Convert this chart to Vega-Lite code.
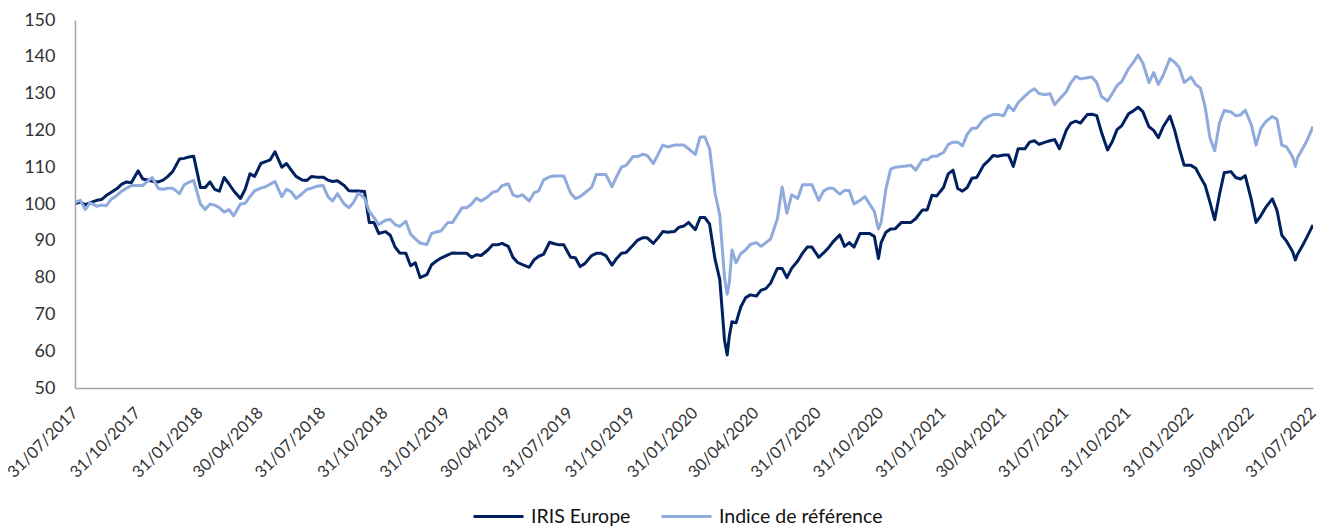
{
  "$schema": "https://vega.github.io/schema/vega-lite/v6.json",
  "autosize": {"type": "none"},
  "width": 1238,
  "height": 368,
  "padding": {"left": 75, "top": 20, "right": 13, "bottom": 139},
  "background": "white",
  "config": {"view": {"stroke": null}, "font": "Lato"},
  "data": {"values": [
{"d":"2017-07-31","IRIS Europe":100,"Indice de référence":100},
{"d":"2017-08-01","IRIS Europe":100.2,"Indice de référence":100.5},
{"d":"2017-08-08","IRIS Europe":100.5,"Indice de référence":101},
{"d":"2017-08-15","IRIS Europe":99.8,"Indice de référence":98.5},
{"d":"2017-08-22","IRIS Europe":100.3,"Indice de référence":100.3},
{"d":"2017-09-01","IRIS Europe":101,"Indice de référence":99.4},
{"d":"2017-09-08","IRIS Europe":101.2,"Indice de référence":99.7},
{"d":"2017-09-15","IRIS Europe":102.3,"Indice de référence":99.5},
{"d":"2017-09-22","IRIS Europe":103.1,"Indice de référence":101.2},
{"d":"2017-10-01","IRIS Europe":104.2,"Indice de référence":102.4},
{"d":"2017-10-08","IRIS Europe":105.4,"Indice de référence":103.5},
{"d":"2017-10-15","IRIS Europe":106,"Indice de référence":104.3},
{"d":"2017-10-22","IRIS Europe":105.8,"Indice de référence":105},
{"d":"2017-11-01","IRIS Europe":109,"Indice de référence":105},
{"d":"2017-11-08","IRIS Europe":106.8,"Indice de référence":105},
{"d":"2017-11-15","IRIS Europe":106.5,"Indice de référence":106.2},
{"d":"2017-11-22","IRIS Europe":106.2,"Indice de référence":107.2},
{"d":"2017-12-01","IRIS Europe":106,"Indice de référence":104.2},
{"d":"2017-12-08","IRIS Europe":106.5,"Indice de référence":104},
{"d":"2017-12-15","IRIS Europe":107.5,"Indice de référence":104.3},
{"d":"2017-12-22","IRIS Europe":108.8,"Indice de référence":104.3},
{"d":"2018-01-01","IRIS Europe":112.2,"Indice de référence":102.8},
{"d":"2018-01-08","IRIS Europe":112.4,"Indice de référence":105.2},
{"d":"2018-01-15","IRIS Europe":112.8,"Indice de référence":105.9},
{"d":"2018-01-22","IRIS Europe":113,"Indice de référence":106.4},
{"d":"2018-02-01","IRIS Europe":104.5,"Indice de référence":100},
{"d":"2018-02-08","IRIS Europe":104.5,"Indice de référence":98.5},
{"d":"2018-02-15","IRIS Europe":106,"Indice de référence":100},
{"d":"2018-02-22","IRIS Europe":104,"Indice de référence":99.7},
{"d":"2018-03-01","IRIS Europe":103.5,"Indice de référence":99},
{"d":"2018-03-08","IRIS Europe":107.2,"Indice de référence":97.8},
{"d":"2018-03-15","IRIS Europe":105.5,"Indice de référence":98.5},
{"d":"2018-03-22","IRIS Europe":103.6,"Indice de référence":96.8},
{"d":"2018-04-01","IRIS Europe":101.5,"Indice de référence":100},
{"d":"2018-04-08","IRIS Europe":104,"Indice de référence":100.2},
{"d":"2018-04-15","IRIS Europe":108.2,"Indice de référence":102},
{"d":"2018-04-22","IRIS Europe":107.5,"Indice de référence":103.6},
{"d":"2018-05-01","IRIS Europe":111,"Indice de référence":104.3},
{"d":"2018-05-08","IRIS Europe":111.5,"Indice de référence":104.7},
{"d":"2018-05-15","IRIS Europe":112,"Indice de référence":105.4},
{"d":"2018-05-22","IRIS Europe":114.2,"Indice de référence":106.1},
{"d":"2018-06-01","IRIS Europe":110,"Indice de référence":102},
{"d":"2018-06-08","IRIS Europe":111,"Indice de référence":104},
{"d":"2018-06-15","IRIS Europe":109.2,"Indice de référence":103.3},
{"d":"2018-06-22","IRIS Europe":107.5,"Indice de référence":101.5},
{"d":"2018-07-01","IRIS Europe":106.5,"Indice de référence":102.8},
{"d":"2018-07-08","IRIS Europe":106.4,"Indice de référence":104},
{"d":"2018-07-15","IRIS Europe":107.5,"Indice de référence":104.3},
{"d":"2018-07-22","IRIS Europe":107.3,"Indice de référence":104.8},
{"d":"2018-08-01","IRIS Europe":107.3,"Indice de référence":105},
{"d":"2018-08-08","IRIS Europe":106.5,"Indice de référence":102},
{"d":"2018-08-15","IRIS Europe":106.1,"Indice de référence":100.8},
{"d":"2018-08-22","IRIS Europe":106.3,"Indice de référence":102.8},
{"d":"2018-09-01","IRIS Europe":105,"Indice de référence":100},
{"d":"2018-09-08","IRIS Europe":103.6,"Indice de référence":99},
{"d":"2018-09-15","IRIS Europe":103.5,"Indice de référence":100.5},
{"d":"2018-09-22","IRIS Europe":103.5,"Indice de référence":103},
{"d":"2018-10-01","IRIS Europe":103.4,"Indice de référence":101.6},
{"d":"2018-10-08","IRIS Europe":95,"Indice de référence":98},
{"d":"2018-10-15","IRIS Europe":95,"Indice de référence":96.3},
{"d":"2018-10-22","IRIS Europe":92,"Indice de référence":94.4},
{"d":"2018-11-01","IRIS Europe":92.5,"Indice de référence":95.6},
{"d":"2018-11-08","IRIS Europe":91.5,"Indice de référence":95.8},
{"d":"2018-11-15","IRIS Europe":88.3,"Indice de référence":94.4},
{"d":"2018-11-22","IRIS Europe":86.7,"Indice de référence":93.9},
{"d":"2018-12-01","IRIS Europe":86.6,"Indice de référence":95.3},
{"d":"2018-12-08","IRIS Europe":83.2,"Indice de référence":91.8},
{"d":"2018-12-15","IRIS Europe":84,"Indice de référence":90.5},
{"d":"2018-12-22","IRIS Europe":80,"Indice de référence":89.4},
{"d":"2019-01-01","IRIS Europe":80.8,"Indice de référence":89},
{"d":"2019-01-08","IRIS Europe":83.5,"Indice de référence":92},
{"d":"2019-01-15","IRIS Europe":84.5,"Indice de référence":92.4},
{"d":"2019-01-22","IRIS Europe":85.3,"Indice de référence":92.7},
{"d":"2019-02-01","IRIS Europe":86.2,"Indice de référence":95},
{"d":"2019-02-08","IRIS Europe":86.7,"Indice de référence":95},
{"d":"2019-02-15","IRIS Europe":86.6,"Indice de référence":97},
{"d":"2019-02-22","IRIS Europe":86.6,"Indice de référence":99},
{"d":"2019-03-01","IRIS Europe":86.6,"Indice de référence":99},
{"d":"2019-03-08","IRIS Europe":85.5,"Indice de référence":100},
{"d":"2019-03-15","IRIS Europe":86.2,"Indice de référence":101.6},
{"d":"2019-03-22","IRIS Europe":86,"Indice de référence":100.8},
{"d":"2019-04-01","IRIS Europe":87.5,"Indice de référence":102},
{"d":"2019-04-08","IRIS Europe":88.9,"Indice de référence":103.2},
{"d":"2019-04-15","IRIS Europe":88.9,"Indice de référence":103.5},
{"d":"2019-04-22","IRIS Europe":89.3,"Indice de référence":105},
{"d":"2019-05-01","IRIS Europe":88.5,"Indice de référence":105.5},
{"d":"2019-05-08","IRIS Europe":85.5,"Indice de référence":102.5},
{"d":"2019-05-15","IRIS Europe":84.1,"Indice de référence":102},
{"d":"2019-05-22","IRIS Europe":83.5,"Indice de référence":102.5},
{"d":"2019-06-01","IRIS Europe":82.8,"Indice de référence":100.8},
{"d":"2019-06-08","IRIS Europe":84.8,"Indice de référence":103},
{"d":"2019-06-15","IRIS Europe":85.8,"Indice de référence":103.6},
{"d":"2019-06-22","IRIS Europe":86.3,"Indice de référence":106.5},
{"d":"2019-07-01","IRIS Europe":89.6,"Indice de référence":107.4},
{"d":"2019-07-08","IRIS Europe":89.2,"Indice de référence":107.6},
{"d":"2019-07-15","IRIS Europe":88.9,"Indice de référence":107.6},
{"d":"2019-07-22","IRIS Europe":88.9,"Indice de référence":107.6},
{"d":"2019-08-01","IRIS Europe":85.5,"Indice de référence":103},
{"d":"2019-08-08","IRIS Europe":85.4,"Indice de référence":101.5},
{"d":"2019-08-15","IRIS Europe":83,"Indice de référence":102},
{"d":"2019-08-22","IRIS Europe":83.8,"Indice de référence":103},
{"d":"2019-09-01","IRIS Europe":86,"Indice de référence":104.5},
{"d":"2019-09-08","IRIS Europe":86.6,"Indice de référence":108},
{"d":"2019-09-15","IRIS Europe":86.6,"Indice de référence":108},
{"d":"2019-09-22","IRIS Europe":86,"Indice de référence":108},
{"d":"2019-10-01","IRIS Europe":83.4,"Indice de référence":104.7},
{"d":"2019-10-08","IRIS Europe":85.2,"Indice de référence":107.5},
{"d":"2019-10-15","IRIS Europe":86.6,"Indice de référence":110},
{"d":"2019-10-22","IRIS Europe":86.8,"Indice de référence":110.5},
{"d":"2019-11-01","IRIS Europe":88.8,"Indice de référence":112.9},
{"d":"2019-11-08","IRIS Europe":90.2,"Indice de référence":112.9},
{"d":"2019-11-15","IRIS Europe":90.8,"Indice de référence":113.5},
{"d":"2019-11-22","IRIS Europe":90.8,"Indice de référence":113.2},
{"d":"2019-12-01","IRIS Europe":89.3,"Indice de référence":111},
{"d":"2019-12-08","IRIS Europe":90.8,"Indice de référence":113.5},
{"d":"2019-12-15","IRIS Europe":92.5,"Indice de référence":116},
{"d":"2019-12-22","IRIS Europe":92.3,"Indice de référence":115.5},
{"d":"2020-01-01","IRIS Europe":92.5,"Indice de référence":116},
{"d":"2020-01-08","IRIS Europe":93.7,"Indice de référence":116},
{"d":"2020-01-15","IRIS Europe":94,"Indice de référence":116},
{"d":"2020-01-22","IRIS Europe":95,"Indice de référence":115},
{"d":"2020-02-01","IRIS Europe":93,"Indice de référence":113.5},
{"d":"2020-02-08","IRIS Europe":96.3,"Indice de référence":118.2},
{"d":"2020-02-15","IRIS Europe":96.3,"Indice de référence":118.2},
{"d":"2020-02-22","IRIS Europe":94.5,"Indice de référence":115},
{"d":"2020-03-01","IRIS Europe":85,"Indice de référence":103},
{"d":"2020-03-08","IRIS Europe":79.5,"Indice de référence":97},
{"d":"2020-03-15","IRIS Europe":63,"Indice de référence":80},
{"d":"2020-03-19","IRIS Europe":59,"Indice de référence":75.5},
{"d":"2020-03-22","IRIS Europe":64,"Indice de référence":78.5},
{"d":"2020-03-26","IRIS Europe":68,"Indice de référence":87.5},
{"d":"2020-04-01","IRIS Europe":67.7,"Indice de référence":84},
{"d":"2020-04-08","IRIS Europe":72,"Indice de référence":86.5},
{"d":"2020-04-15","IRIS Europe":74.5,"Indice de référence":87.5},
{"d":"2020-04-22","IRIS Europe":75.3,"Indice de référence":89},
{"d":"2020-05-01","IRIS Europe":75,"Indice de référence":89.5},
{"d":"2020-05-08","IRIS Europe":76.6,"Indice de référence":88.5},
{"d":"2020-05-15","IRIS Europe":77,"Indice de référence":89.5},
{"d":"2020-05-22","IRIS Europe":78.5,"Indice de référence":90.5},
{"d":"2020-06-01","IRIS Europe":82.5,"Indice de référence":96},
{"d":"2020-06-08","IRIS Europe":82.5,"Indice de référence":104.6},
{"d":"2020-06-15","IRIS Europe":80,"Indice de référence":97.5},
{"d":"2020-06-22","IRIS Europe":82.5,"Indice de référence":102.5},
{"d":"2020-07-01","IRIS Europe":84.5,"Indice de référence":101.5},
{"d":"2020-07-08","IRIS Europe":86.6,"Indice de référence":105.2},
{"d":"2020-07-15","IRIS Europe":88.3,"Indice de référence":105.2},
{"d":"2020-07-22","IRIS Europe":88.3,"Indice de référence":105.2},
{"d":"2020-08-01","IRIS Europe":85.5,"Indice de référence":101},
{"d":"2020-08-08","IRIS Europe":86.7,"Indice de référence":103.5},
{"d":"2020-08-15","IRIS Europe":88,"Indice de référence":104.3},
{"d":"2020-08-22","IRIS Europe":89.7,"Indice de référence":104.3},
{"d":"2020-09-01","IRIS Europe":91.6,"Indice de référence":102.7},
{"d":"2020-09-08","IRIS Europe":88.5,"Indice de référence":103.7},
{"d":"2020-09-15","IRIS Europe":89.5,"Indice de référence":103.7},
{"d":"2020-09-22","IRIS Europe":88.3,"Indice de référence":100},
{"d":"2020-10-01","IRIS Europe":92,"Indice de référence":101},
{"d":"2020-10-08","IRIS Europe":92,"Indice de référence":102},
{"d":"2020-10-15","IRIS Europe":92,"Indice de référence":100},
{"d":"2020-10-22","IRIS Europe":91.2,"Indice de référence":98},
{"d":"2020-10-28","IRIS Europe":85.2,"Indice de référence":93.2},
{"d":"2020-11-01","IRIS Europe":89.5,"Indice de référence":95},
{"d":"2020-11-08","IRIS Europe":92.3,"Indice de référence":104},
{"d":"2020-11-15","IRIS Europe":93.2,"Indice de référence":109.5},
{"d":"2020-11-22","IRIS Europe":93.3,"Indice de référence":110},
{"d":"2020-12-01","IRIS Europe":95,"Indice de référence":110.2},
{"d":"2020-12-08","IRIS Europe":95,"Indice de référence":110.3},
{"d":"2020-12-15","IRIS Europe":95,"Indice de référence":110.5},
{"d":"2020-12-22","IRIS Europe":96,"Indice de référence":109.2},
{"d":"2021-01-01","IRIS Europe":98.4,"Indice de référence":112},
{"d":"2021-01-08","IRIS Europe":98.4,"Indice de référence":112},
{"d":"2021-01-15","IRIS Europe":102.4,"Indice de référence":113},
{"d":"2021-01-22","IRIS Europe":102.2,"Indice de référence":113},
{"d":"2021-02-01","IRIS Europe":104.5,"Indice de référence":114},
{"d":"2021-02-08","IRIS Europe":108.2,"Indice de référence":116.2},
{"d":"2021-02-15","IRIS Europe":109.2,"Indice de référence":116.8},
{"d":"2021-02-22","IRIS Europe":104.2,"Indice de référence":116.8},
{"d":"2021-03-01","IRIS Europe":103.5,"Indice de référence":115.8},
{"d":"2021-03-08","IRIS Europe":104.5,"Indice de référence":119},
{"d":"2021-03-15","IRIS Europe":107,"Indice de référence":120.6},
{"d":"2021-03-22","IRIS Europe":107.2,"Indice de référence":120.6},
{"d":"2021-04-01","IRIS Europe":110.5,"Indice de référence":123},
{"d":"2021-04-08","IRIS Europe":111.7,"Indice de référence":123.8},
{"d":"2021-04-15","IRIS Europe":113.2,"Indice de référence":124.3},
{"d":"2021-04-22","IRIS Europe":113,"Indice de référence":124.3},
{"d":"2021-05-01","IRIS Europe":113.3,"Indice de référence":124},
{"d":"2021-05-08","IRIS Europe":113.3,"Indice de référence":126.8},
{"d":"2021-05-15","IRIS Europe":110.2,"Indice de référence":125.3},
{"d":"2021-05-22","IRIS Europe":115,"Indice de référence":127.5},
{"d":"2021-06-01","IRIS Europe":115,"Indice de référence":129.3},
{"d":"2021-06-08","IRIS Europe":116.8,"Indice de référence":130.5},
{"d":"2021-06-15","IRIS Europe":117.2,"Indice de référence":131.3},
{"d":"2021-06-22","IRIS Europe":116.2,"Indice de référence":130},
{"d":"2021-07-01","IRIS Europe":116.8,"Indice de référence":129.7},
{"d":"2021-07-08","IRIS Europe":117.2,"Indice de référence":130},
{"d":"2021-07-15","IRIS Europe":117.5,"Indice de référence":127},
{"d":"2021-07-22","IRIS Europe":115,"Indice de référence":128.5},
{"d":"2021-08-01","IRIS Europe":120,"Indice de référence":130.5},
{"d":"2021-08-08","IRIS Europe":122,"Indice de référence":133},
{"d":"2021-08-15","IRIS Europe":122.5,"Indice de référence":134.7},
{"d":"2021-08-22","IRIS Europe":122,"Indice de référence":134},
{"d":"2021-09-01","IRIS Europe":124.3,"Indice de référence":134.3},
{"d":"2021-09-08","IRIS Europe":124.4,"Indice de référence":134.5},
{"d":"2021-09-15","IRIS Europe":124,"Indice de référence":133},
{"d":"2021-09-22","IRIS Europe":119.5,"Indice de référence":129.2},
{"d":"2021-10-01","IRIS Europe":114.7,"Indice de référence":128},
{"d":"2021-10-08","IRIS Europe":117,"Indice de référence":130},
{"d":"2021-10-15","IRIS Europe":120.2,"Indice de référence":132.2},
{"d":"2021-10-22","IRIS Europe":121.3,"Indice de référence":133.3},
{"d":"2021-11-01","IRIS Europe":124.5,"Indice de référence":136.8},
{"d":"2021-11-08","IRIS Europe":125.3,"Indice de référence":138.5},
{"d":"2021-11-15","IRIS Europe":126.3,"Indice de référence":140.5},
{"d":"2021-11-22","IRIS Europe":125.1,"Indice de référence":138.3},
{"d":"2021-12-01","IRIS Europe":121,"Indice de référence":133},
{"d":"2021-12-08","IRIS Europe":120,"Indice de référence":135.7},
{"d":"2021-12-15","IRIS Europe":118,"Indice de référence":132.5},
{"d":"2021-12-22","IRIS Europe":121,"Indice de référence":135},
{"d":"2022-01-01","IRIS Europe":123.9,"Indice de référence":139.5},
{"d":"2022-01-08","IRIS Europe":120,"Indice de référence":138.5},
{"d":"2022-01-15","IRIS Europe":115,"Indice de référence":137},
{"d":"2022-01-22","IRIS Europe":110.5,"Indice de référence":133},
{"d":"2022-02-01","IRIS Europe":110.5,"Indice de référence":134.5},
{"d":"2022-02-08","IRIS Europe":109.7,"Indice de référence":132.5},
{"d":"2022-02-15","IRIS Europe":107.3,"Indice de référence":131.5},
{"d":"2022-02-22","IRIS Europe":105,"Indice de référence":126.3},
{"d":"2022-03-01","IRIS Europe":100.5,"Indice de référence":118},
{"d":"2022-03-08","IRIS Europe":95.7,"Indice de référence":114.5},
{"d":"2022-03-15","IRIS Europe":102.5,"Indice de référence":122},
{"d":"2022-03-22","IRIS Europe":108.5,"Indice de référence":125.4},
{"d":"2022-04-01","IRIS Europe":108.8,"Indice de référence":125},
{"d":"2022-04-08","IRIS Europe":107.2,"Indice de référence":124},
{"d":"2022-04-15","IRIS Europe":106.8,"Indice de référence":124.2},
{"d":"2022-04-22","IRIS Europe":107.7,"Indice de référence":125.5},
{"d":"2022-05-01","IRIS Europe":101.2,"Indice de référence":121.6},
{"d":"2022-05-08","IRIS Europe":95,"Indice de référence":116},
{"d":"2022-05-15","IRIS Europe":96.8,"Indice de référence":120.5},
{"d":"2022-05-22","IRIS Europe":99,"Indice de référence":122.3},
{"d":"2022-06-01","IRIS Europe":101.4,"Indice de référence":123.8},
{"d":"2022-06-08","IRIS Europe":98.2,"Indice de référence":123},
{"d":"2022-06-15","IRIS Europe":91.5,"Indice de référence":116},
{"d":"2022-06-22","IRIS Europe":89.9,"Indice de référence":115.5},
{"d":"2022-07-01","IRIS Europe":87,"Indice de référence":112.8},
{"d":"2022-07-05","IRIS Europe":84.8,"Indice de référence":110.2},
{"d":"2022-07-08","IRIS Europe":86.3,"Indice de référence":112.5},
{"d":"2022-07-15","IRIS Europe":88.5,"Indice de référence":114.8},
{"d":"2022-07-22","IRIS Europe":91,"Indice de référence":117.2},
{"d":"2022-07-31","IRIS Europe":94.3,"Indice de référence":121}
  ]},
  "transform": [{"fold": ["IRIS Europe", "Indice de référence"], "as": ["serie", "valeur"]}],
  "mark": {"type": "line", "strokeWidth": 3, "strokeJoin": "round", "clip": true},
  "encoding": {
    "x": {
      "field": "d", "type": "temporal",
      "scale": {"type": "utc", "domain": [{"year": 2017, "month": 7, "date": 31, "utc": true}, {"year": 2022, "month": 7, "date": 31, "utc": true}], "nice": false},
      "axis": {
        "title": null,
        "values": [
          {"year": 2017, "month": 7, "date": 31, "utc": true},
          {"year": 2017, "month": 10, "date": 31, "utc": true},
          {"year": 2018, "month": 1, "date": 31, "utc": true},
          {"year": 2018, "month": 4, "date": 30, "utc": true},
          {"year": 2018, "month": 7, "date": 31, "utc": true},
          {"year": 2018, "month": 10, "date": 31, "utc": true},
          {"year": 2019, "month": 1, "date": 31, "utc": true},
          {"year": 2019, "month": 4, "date": 30, "utc": true},
          {"year": 2019, "month": 7, "date": 31, "utc": true},
          {"year": 2019, "month": 10, "date": 31, "utc": true},
          {"year": 2020, "month": 1, "date": 31, "utc": true},
          {"year": 2020, "month": 4, "date": 30, "utc": true},
          {"year": 2020, "month": 7, "date": 31, "utc": true},
          {"year": 2020, "month": 10, "date": 31, "utc": true},
          {"year": 2021, "month": 1, "date": 31, "utc": true},
          {"year": 2021, "month": 4, "date": 30, "utc": true},
          {"year": 2021, "month": 7, "date": 31, "utc": true},
          {"year": 2021, "month": 10, "date": 31, "utc": true},
          {"year": 2022, "month": 1, "date": 31, "utc": true},
          {"year": 2022, "month": 4, "date": 30, "utc": true},
          {"year": 2022, "month": 7, "date": 31, "utc": true}
        ],
        "format": "%d/%m/%Y",
        "labelAngle": -45, "labelAlign": "right", "labelBaseline": "middle",
        "labelPadding": 22, "ticks": false, "tickSize": 0, "grid": false,
        "domainColor": "#A6A6A6", "domainWidth": 1.5,
        "labelFont": "Lato", "labelFontSize": 16.5, "labelColor": "#333333",
        "labelOverlap": false, "labelFlush": false, "labelBound": false
      }
    },
    "y": {
      "field": "valeur", "type": "quantitative",
      "scale": {"domain": [50, 150], "nice": false, "zero": false},
      "axis": {
        "title": null, "values": [50, 60, 70, 80, 90, 100, 110, 120, 130, 140, 150],
        "ticks": false, "tickSize": 0, "grid": false,
        "domainColor": "#A6A6A6", "domainWidth": 1.5,
        "labelFont": "Lato", "labelFontSize": 18, "labelColor": "#333333",
        "labelPadding": 20
      }
    },
    "color": {
      "field": "serie", "type": "nominal",
      "scale": {"domain": ["IRIS Europe", "Indice de référence"], "range": ["#002060", "#8FAADC"]},
      "legend": {
        "orient": "none", "legendX": 397, "legendY": 470, "direction": "horizontal",
        "title": null, "symbolType": "stroke", "symbolSize": 2500, "symbolStrokeWidth": 3,
        "labelFont": "Lato", "labelFontSize": 19.5, "labelColor": "#111111",
        "columnPadding": 24, "labelOffset": 6, "labelLimit": 300
      }
    }
  }
}
